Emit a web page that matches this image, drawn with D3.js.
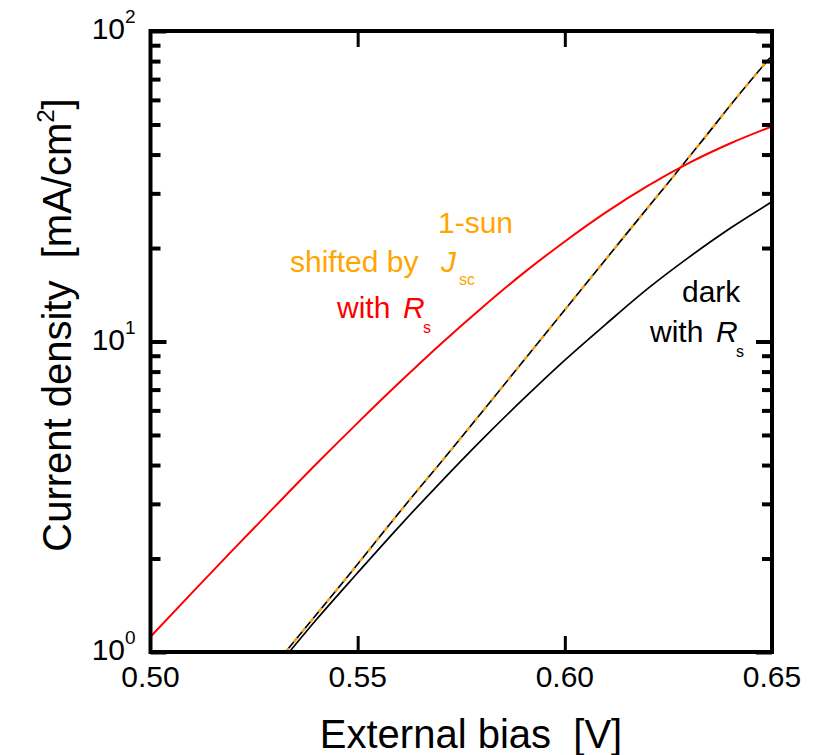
<!DOCTYPE html>
<html>
<head>
<meta charset="utf-8">
<script src="https://cdn.jsdelivr.net/npm/d3@7"></script>
<style>
  body { margin: 0; background: #fff; }
  text { font-family: "Liberation Sans", Arial, Helvetica, sans-serif; }
</style>
</head>
<body>
<div id="chart"></div>
<script>
// axis ticks
var xTicks = [0.50, 0.55, 0.60, 0.65];
var xInnerTicks = [0.55, 0.60];
var yTicks = [1, 10, 100];
var yExp = ["0", "1", "2"];
var yMinor = [2, 3, 4, 5, 6, 7, 8, 9, 20, 30, 40, 50, 60, 70, 80, 90];

// 1-sun shifted by Jsc, with Rs (red)
var sunRsV = [0.500, 0.510, 0.520, 0.530, 0.540, 0.550, 0.560, 0.570, 0.580, 0.590, 0.600, 0.610, 0.620, 0.630, 0.640, 0.650];
var sunRsJ = [1.12, 1.55, 2.14, 2.94, 4.03, 5.47, 7.36, 9.80, 12.85, 16.6, 21.0, 26.1, 31.7, 37.6, 43.5, 49.3];

// dark, no Rs (black)
var darkV = [0.5326, 0.546, 0.5651, 0.5692, 0.5812, 0.5916, 0.6117, 0.6182, 0.6254, 0.6326, 0.6423, 0.6495];
var darkJ = [1.0, 1.65, 3.40, 3.95, 6.2, 9.2, 19.7, 25.2, 33, 43.4, 63, 82];

// 1-sun shifted by Jsc, no Rs (orange, on top of dark)
var sunV = [0.5326, 0.546, 0.5651, 0.5692, 0.5812, 0.5916, 0.6117, 0.6182, 0.6254, 0.6326, 0.6423, 0.6495];
var sunJ = [1.0, 1.65, 3.40, 3.95, 6.2, 9.2, 19.7, 25.2, 33, 43.4, 63, 82];

// dark with Rs (black)
var darkRsV = [0.5335, 0.540, 0.550, 0.560, 0.570, 0.580, 0.590, 0.600, 0.610, 0.620, 0.630, 0.640, 0.650];
var darkRsJ = [1.0, 1.27, 1.80, 2.535, 3.52, 4.83, 6.53, 8.71, 11.4, 14.8, 18.7, 23.2, 28.2];

var width = 816, height = 755;
var pLeft = 150.5, pRight = 772, pTop = 31, pBottom = 652;

var svg = d3.select("#chart").append("svg")
    .attr("width", width)
    .attr("height", height);

var x = d3.scaleLinear().domain([0.5, 0.65]).range([pLeft, pRight]);
var y = d3.scaleLog().domain([1, 100]).range([pBottom, pTop]);

svg.append("defs").append("clipPath").attr("id", "clip")
  .append("rect")
    .attr("x", pLeft).attr("y", pTop)
    .attr("width", pRight - pLeft).attr("height", pBottom - pTop);

function pts(vs, js) {
  return vs.map(function (v, i) { return [v, js[i]]; });
}

var line = d3.line()
    .x(function (d) { return x(d[0]); })
    .y(function (d) { return y(d[1]); })
    .curve(d3.curveMonotoneX);

var plot = svg.append("g").attr("clip-path", "url(#clip)");

plot.append("path")
    .attr("d", line(pts(darkRsV, darkRsJ)))
    .attr("fill", "none").attr("stroke", "#000").attr("stroke-width", 1.7);

plot.append("path")
    .attr("d", line(pts(darkV, darkJ)))
    .attr("fill", "none").attr("stroke", "#000").attr("stroke-width", 1.7);

plot.append("path")
    .attr("d", line(pts(sunV, sunJ)))
    .attr("fill", "none").attr("stroke", "#ffa500").attr("stroke-width", 2.2)
    .attr("stroke-dasharray", "5,8");

plot.append("path")
    .attr("d", line(pts(sunRsV, sunRsJ)))
    .attr("fill", "none").attr("stroke", "#ff0000").attr("stroke-width", 2);

// ticks
function clean(g, w) {
  g.select(".domain").remove();
  g.selectAll(".tick line").attr("stroke", "#000").attr("stroke-width", w);
}

svg.append("g").attr("transform", "translate(" + pLeft + ",0)")
    .call(d3.axisLeft(y).tickValues(yMinor).tickSize(-10).tickFormat(""))
    .call(clean, 4);
svg.append("g").attr("transform", "translate(" + pLeft + ",0)")
    .call(d3.axisLeft(y).tickValues(yTicks).tickSize(-16).tickFormat(""))
    .call(clean, 4);
svg.append("g").attr("transform", "translate(" + pRight + ",0)")
    .call(d3.axisRight(y).tickValues(yMinor).tickSize(-10).tickFormat(""))
    .call(clean, 4);
svg.append("g").attr("transform", "translate(" + pRight + ",0)")
    .call(d3.axisRight(y).tickValues(yTicks).tickSize(-16).tickFormat(""))
    .call(clean, 4);
svg.append("g").attr("transform", "translate(0," + pBottom + ")")
    .call(d3.axisBottom(x).tickValues(xInnerTicks).tickSize(-16).tickFormat(""))
    .call(clean, 3);
svg.append("g").attr("transform", "translate(0," + pTop + ")")
    .call(d3.axisTop(x).tickValues(xInnerTicks).tickSize(-16).tickFormat(""))
    .call(clean, 3);

// frame
svg.append("rect")
    .attr("x", pLeft).attr("y", pTop)
    .attr("width", pRight - pLeft).attr("height", pBottom - pTop)
    .attr("fill", "none").attr("stroke", "#000").attr("stroke-width", 4);

// tick labels
svg.selectAll(".xlab").data(xTicks).enter().append("text")
    .attr("class", "xlab")
    .attr("x", function (d) { return x(d); })
    .attr("y", 687)
    .attr("text-anchor", "middle")
    .attr("font-size", 30)
    .text(function (d) { return d3.format(".2f")(d); });

svg.selectAll(".ylab").data(yTicks).enter().append("text")
    .attr("class", "ylab")
    .attr("x", 125)
    .attr("y", function (d) { return y(d) + 8; })
    .attr("text-anchor", "end")
    .attr("font-size", 30)
    .text("10");

svg.selectAll(".yexp").data(yTicks).enter().append("text")
    .attr("class", "yexp")
    .attr("x", 125)
    .attr("y", function (d) { return y(d) - 8; })
    .attr("font-size", 19)
    .text(function (d, i) { return yExp[i]; });

// axis titles
svg.append("text")
    .attr("x", 471).attr("y", 748)
    .attr("text-anchor", "middle")
    .attr("font-size", 40)
    .style("white-space", "pre")
    .text("External bias  [V]");

var yt = svg.append("text")
    .attr("transform", "translate(71,325) rotate(-90)")
    .attr("text-anchor", "middle")
    .attr("font-size", 40)
    .style("white-space", "pre");
yt.append("tspan").text("Current density  [mA/cm");
yt.append("tspan").attr("font-size", 24).attr("dy", -17).text("2");
yt.append("tspan").attr("dy", 17).text("]");

// annotations
function label(tx, ty, str, color, italic) {
  svg.append("text")
      .attr("x", tx).attr("y", ty)
      .attr("font-size", 30)
      .attr("fill", color)
      .attr("font-style", italic ? "italic" : null)
      .style("white-space", "pre")
      .text(str);
}
function sub(tx, ty, str, color) {
  svg.append("text")
      .attr("x", tx).attr("y", ty)
      .attr("font-size", 16)
      .attr("fill", color)
      .text(str);
}

var orange = "#ffa500";
label(438, 233, "1-sun", orange);
label(290, 272, "shifted by", orange);
label(441, 272, "J", orange, true);
sub(459, 285, "sc", orange);
label(337, 318, "with", "#ff0000");
label(403, 318, "R", "#ff0000", true);
sub(423, 333, "s", "#ff0000");

label(682, 302, "dark", "#000");
label(650, 342, "with", "#000");
label(716, 342, "R", "#000", true);
sub(736, 357, "s", "#000");
</script>
</body>
</html>
